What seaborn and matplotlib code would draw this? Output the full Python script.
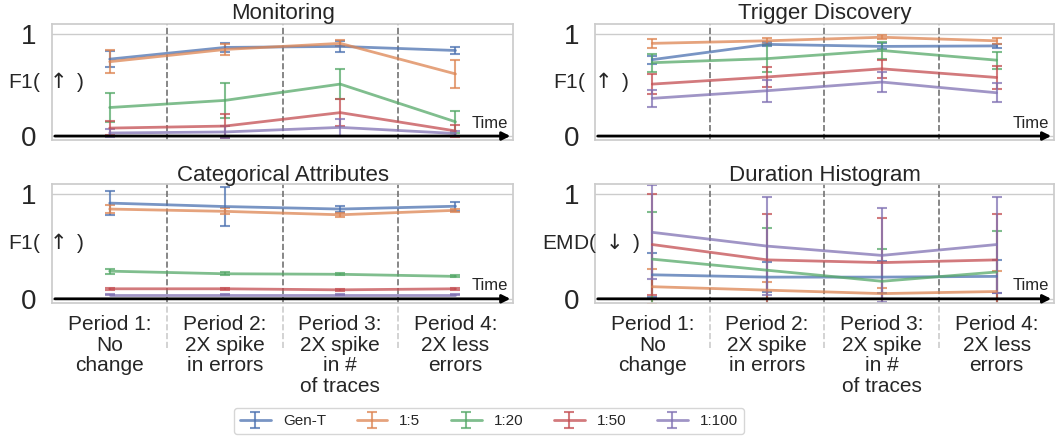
import numpy as np
import matplotlib.pyplot as plt
import seaborn as sns

periods = ["Period 1:\nNo\nchange", "Period 2:\n2X spike\nin errors",
           "Period 3:\n2X spike\nin #\nof traces", "Period 4:\n2X less\nerrors"]
methods = ["Gen-T", "1:5", "1:20", "1:50", "1:100"]

# Monitoring, F1 (mean, error) per method
mon_mean = [[0.755, 0.87, 0.88, 0.84], [0.73, 0.85, 0.91, 0.61], [0.28, 0.35, 0.51, 0.14],
            [0.078, 0.098, 0.23, 0.05], [0.03, 0.04, 0.085, 0.025]]
mon_err = [[0.077, 0.04, 0.05, 0.03], [0.115, 0.05, 0.03, 0.14], [0.145, 0.17, 0.145, 0.11],
           [0.07, 0.12, 0.135, 0.055], [0.04, 0.06, 0.08, 0.025]]

# Trigger discovery, F1
trig_mean = [[0.75, 0.90, 0.88, 0.885], [0.91, 0.935, 0.97, 0.935], [0.72, 0.76, 0.84, 0.745],
             [0.51, 0.58, 0.66, 0.575], [0.37, 0.445, 0.53, 0.425]]
trig_err = [[0.04, 0.02, 0.03, 0.02], [0.045, 0.03, 0.02, 0.03], [0.09, 0.13, 0.08, 0.085],
            [0.10, 0.10, 0.09, 0.11], [0.085, 0.11, 0.095, 0.095]]

# Categorical attributes, F1
cat_mean = [[0.917, 0.884, 0.86, 0.887], [0.86, 0.838, 0.805, 0.848], [0.265, 0.24, 0.235, 0.215],
            [0.096, 0.096, 0.086, 0.096], [0.04, 0.04, 0.04, 0.04]]
cat_err = [[0.115, 0.185, 0.033, 0.045], [0.04, 0.03, 0.02, 0.015], [0.025, 0.015, 0.01, 0.01],
           [0.01, 0.01, 0.01, 0.01], [0.005, 0.005, 0.005, 0.005]]

# Duration histogram, EMD
dur_mean = [[0.23, 0.208, 0.208, 0.215], [0.116, 0.083, 0.05, 0.07], [0.38, 0.274, 0.168, 0.257],
            [0.52, 0.373, 0.347, 0.373], [0.637, 0.505, 0.416, 0.52]]
dur_err = [[0.21, 0.14, 0.15, 0.155], [0.17, 0.08, 0.05, 0.2], [0.455, 0.40, 0.31, 0.39],
           [0.48, 0.44, 0.43, 0.44], [0.45, 0.47, 0.45, 0.46]]

sns.set_theme(style="whitegrid", palette="deep")
plt.rcParams['font.family'] = ['Liberation Sans', 'DejaVu Sans']
plt.rcParams['mathtext.fontset'] = 'dejavusans'
colors = sns.color_palette("deep", 5)

fig = plt.figure(figsize=(10.63, 4.42), dpi=100)
up = r"F1( $\uparrow$ )"
down = r"EMD( $\downarrow$ )"
panels = [
    ("Monitoring", up, mon_mean, mon_err, [0.049, 0.683, 0.4337, 0.2627], -0.095, False),
    ("Trigger Discovery", up, trig_mean, trig_err, [0.5597, 0.683, 0.4318, 0.2627], -0.092, False),
    ("Categorical Attributes", up, cat_mean, cat_err, [0.049, 0.3145, 0.4337, 0.2692], -0.095, True),
    ("Duration Histogram", down, dur_mean, dur_err, [0.5597, 0.3145, 0.4318, 0.2692], -0.115, True),
]

x = np.arange(len(periods))
handles = []
for title, ylab, means, errs, rect, ylab_x, bottom in panels:
    ax = fig.add_axes(rect)
    for i, name in enumerate(methods):
        h = ax.errorbar(x, means[i], yerr=errs[i], color=colors[i], lw=2, alpha=0.75,
                        capsize=3.5, elinewidth=1.5, capthick=1.5, label=name)
        if title == "Monitoring":
            handles.append(h)
    ax.set_xlim(-0.5, 3.5)
    ax.set_ylim(-0.04, 1.1)
    ax.set_yticks([0, 1])
    ax.set_yticklabels(["0", "1"], fontsize=20)
    ax.tick_params(axis='y', pad=11, length=0)
    ax.tick_params(axis='x', length=0, pad=9)
    ax.grid(False, axis='x')
    ax.set_xticks(x)
    if bottom:
        ax.set_xticklabels(periods, fontsize=15, linespacing=1.1, va='top')
        for xv in [0.5, 1.5, 2.5]:
            ax.axvline(xv, ymin=-0.38, ymax=0, clip_on=False, color='0.8', ls='--', lw=1.2)
    else:
        ax.set_xticklabels([])
    for xv in [0.5, 1.5, 2.5]:
        ax.axvline(xv, color='0.45', ls='--', lw=1.2)
    ax.set_title(title, fontsize=16, pad=2)
    ax.text(ylab_x, 0.5, ylab, transform=ax.transAxes, ha='left', va='center', fontsize=15)
    ax.text(0.99, 0.08, "Time", transform=ax.transAxes, ha='right', va='bottom', fontsize=12)
    ax.annotate("", xy=(1.0, 0), xycoords=("axes fraction", "data"),
                xytext=(0.0, 0), textcoords=("axes fraction", "data"),
                arrowprops=dict(arrowstyle="-|>", color="black", lw=2, mutation_scale=12),
                annotation_clip=False)

fig.legend(handles, methods, loc='lower center', bbox_to_anchor=(0.46, 0.0), ncol=5,
           fontsize=11, frameon=True)

fig.savefig("out.png", dpi=100)
